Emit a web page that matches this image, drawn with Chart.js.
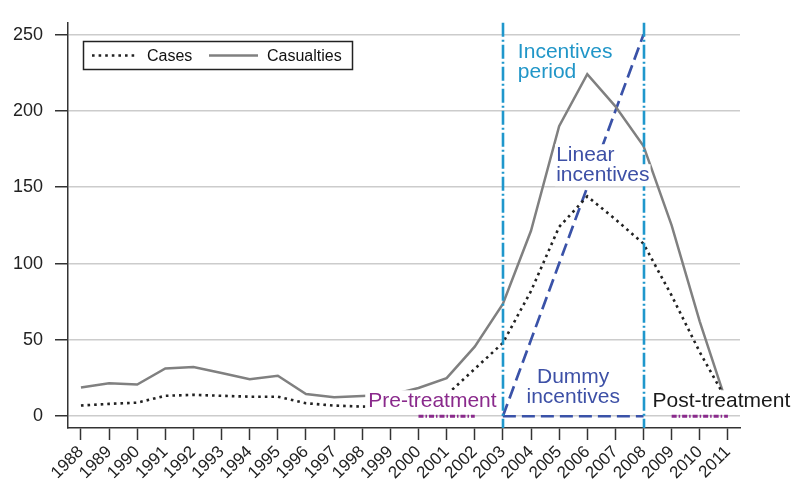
<!DOCTYPE html>
<html>
<head>
<meta charset="utf-8">
<script src="https://cdn.jsdelivr.net/npm/chart.js@4/dist/chart.umd.min.js"></script>
<style>
  html, body { margin: 0; padding: 0; background: #ffffff; }
  canvas { display: block; }
</style>
</head>
<body>
<canvas id="c" width="792" height="485"></canvas>
<script>
const years = [1988, 1989, 1990, 1991, 1992, 1993, 1994, 1995, 1996, 1997, 1998, 1999,
               2000, 2001, 2002, 2003, 2004, 2005, 2006, 2007, 2008, 2009, 2010, 2011];
const cases = [7.0, 8.1, 8.9, 13.4, 14.0, 13.4, 12.8, 12.8, 8.5, 7.0, 6.3, 7,
               10, 14, 31, 48, 82, 124, 144, 129, 113, 79, 42, 9];
const casualties = [18.8, 21.6, 20.8, 31.3, 32.3, 28.3, 24.2, 26.5, 14.6, 12.4, 13.3, 14,
                    18.5, 25, 45.6, 73.5, 121.5, 190, 224, 203, 177, 125, 62, 6];
const incentiveYears = [2003, 2004, 2005, 2006, 2007, 2008];
const linearIncentives = [0, 50, 100, 150, 200, 250];
const dummyIncentives = [0, 0, 0, 0, 0, 0];
const preTreatmentYears = [2000, 2001, 2002];
const preTreatmentValues = [0, 0, 0];
const postTreatmentYears = [2009, 2010, 2011];
const postTreatmentValues = [0, 0, 0];
const periodBounds = [2003, 2008];
const yTicks = [0, 50, 100, 150, 200, 250];
const seriesNames = ['Cases', 'Casualties'];

const FONT = '"Liberation Sans", Arial, Helvetica, sans-serif';
const pts = (xs, ys) => xs.map((v, i) => ({ x: v, y: ys[i] }));

const annot = {
  id: 'annot',
  afterDatasetsDraw(chart) {
    const { ctx, chartArea: a, scales } = chart;
    const X = v => scales.x.getPixelForValue(v);
    const Y = v => scales.y.getPixelForValue(v);
    ctx.save();
    // incentive period bounds
    ctx.strokeStyle = '#1f97cc';
    ctx.lineWidth = 2.6;
    ctx.setLineDash([14, 3, 2, 3]);
    periodBounds.forEach(v => {
      const px = Math.round(X(v));
      ctx.beginPath();
      ctx.moveTo(px, a.top);
      ctx.lineTo(px, a.bottom);
      ctx.stroke();
    });
    ctx.setLineDash([]);
    ctx.font = '21px ' + FONT;
    ctx.textBaseline = 'alphabetic';
    const label = (lines, px, py, color, align, pad) => {
      lines.forEach((t, i) => {
        const w = ctx.measureText(t).width;
        const left = align === 'center' ? px - w / 2 : px;
        const base = py + i * 20;
        if (pad !== null) {
          ctx.fillStyle = '#ffffff';
          ctx.fillRect(left - pad, base - 17, w + 2 * pad, 22);
        }
        ctx.fillStyle = color;
        ctx.textAlign = 'left';
        ctx.fillText(t, left, base);
      });
    };
    label(['Incentives', 'period'], X(2003) + 15, Y(250) + 23, '#2196c8', 'left', null);
    label(['Linear', 'incentives'], X(2005) - 3, Y(150) - 26, '#3d50a6', 'left', 1);
    label(['Dummy', 'incentives'], X(2005.5), Y(0) - 33, '#3d50a6', 'center', null);
    label(['Pre-treatment'], X(1998) + 6, Y(0) - 9, '#8a2a8c', 'left', 3);
    label(['Post-treatment'], X(2008) + 9, Y(0) - 9, '#1a1a1a', 'left', 3);
    ctx.restore();
  },
  afterDraw(chart) {
    const { ctx } = chart;
    ctx.save();
    ctx.strokeStyle = '#222';
    ctx.lineWidth = 1.5;
    ctx.strokeRect(83.5, 41.5, 269, 28);
    const ds = chart.data.datasets;
    ctx.strokeStyle = ds[0].borderColor;
    ctx.lineWidth = ds[0].borderWidth;
    ctx.setLineDash(ds[0].borderDash);
    ctx.beginPath(); ctx.moveTo(92, 55.5); ctx.lineTo(136, 55.5); ctx.stroke();
    ctx.setLineDash([]);
    ctx.strokeStyle = ds[1].borderColor;
    ctx.lineWidth = ds[1].borderWidth;
    ctx.beginPath(); ctx.moveTo(209, 55.5); ctx.lineTo(258, 55.5); ctx.stroke();
    ctx.fillStyle = '#111';
    ctx.font = '16px ' + FONT;
    ctx.textBaseline = 'alphabetic';
    ctx.fillText(seriesNames[0], 147, 61);
    ctx.fillText(seriesNames[1], 267, 61);
    ctx.restore();
  }
};

new Chart(document.getElementById('c'), {
  type: 'line',
  data: {
    datasets: [
      { label: seriesNames[0], data: pts(years, cases), borderColor: '#222222', borderWidth: 2.6,
        borderDash: [2.6, 4], pointRadius: 0, tension: 0, order: 1 },
      { label: seriesNames[1], data: pts(years, casualties), borderColor: '#808080', borderWidth: 2.5,
        pointRadius: 0, tension: 0, order: 2 },
      { label: 'Linear incentives', data: pts(incentiveYears, linearIncentives), borderColor: '#3a52a8',
        borderWidth: 2.7, borderDash: [13, 6], pointRadius: 0, tension: 0, order: 3 },
      { label: 'Dummy incentives', data: pts(incentiveYears, dummyIncentives), borderColor: '#3a52a8',
        borderWidth: 2.7, borderDash: [13, 6], pointRadius: 0, tension: 0, order: 4 },
      { label: 'Pre-treatment', data: pts(preTreatmentYears, preTreatmentValues), borderColor: '#8a2a8c',
        borderWidth: 3, borderDash: [5, 2, 1.5, 2], pointRadius: 0, tension: 0, order: 5 },
      { label: 'Post-treatment', data: pts(postTreatmentYears, postTreatmentValues), borderColor: '#8a2a8c',
        borderWidth: 3, borderDash: [5, 2, 1.5, 2], pointRadius: 0, tension: 0, order: 6 }
    ]
  },
  options: {
    responsive: false,
    animation: false,
    devicePixelRatio: 1,
    layout: { padding: { top: 15, right: 52, left: 0, bottom: 0 } },
    plugins: { legend: { display: false }, tooltip: { enabled: false } },
    scales: {
      x: {
        type: 'linear',
        min: 1987.54,
        max: 2011.43,
        afterBuildTicks: s => { s.ticks = years.map(v => ({ value: v })); },
        afterFit: s => { s.height = 57; },
        grid: { drawOnChartArea: false, drawTicks: true, tickLength: 12, tickColor: '#333', tickWidth: 1.5 },
        border: { display: true, color: '#333', width: 1.5 },
        ticks: { autoSkip: false, maxRotation: 45, minRotation: 45, padding: 2, color: '#222',
                 font: { family: FONT, size: 17 }, callback: v => String(v) }
      },
      y: {
        type: 'linear',
        min: -7.7,
        max: 257.7,
        afterBuildTicks: s => { s.ticks = yTicks.map(v => ({ value: v })); },
        afterFit: s => { s.width = 68; },
        grid: { color: '#cccccc', lineWidth: 1.5, drawTicks: true, tickLength: 13, tickColor: '#333', tickWidth: 1.5 },
        border: { display: true, color: '#333', width: 1.5 },
        ticks: { padding: 12, color: '#222', font: { family: FONT, size: 18 } }
      }
    }
  },
  plugins: [annot]
});
</script>
</body>
</html>
